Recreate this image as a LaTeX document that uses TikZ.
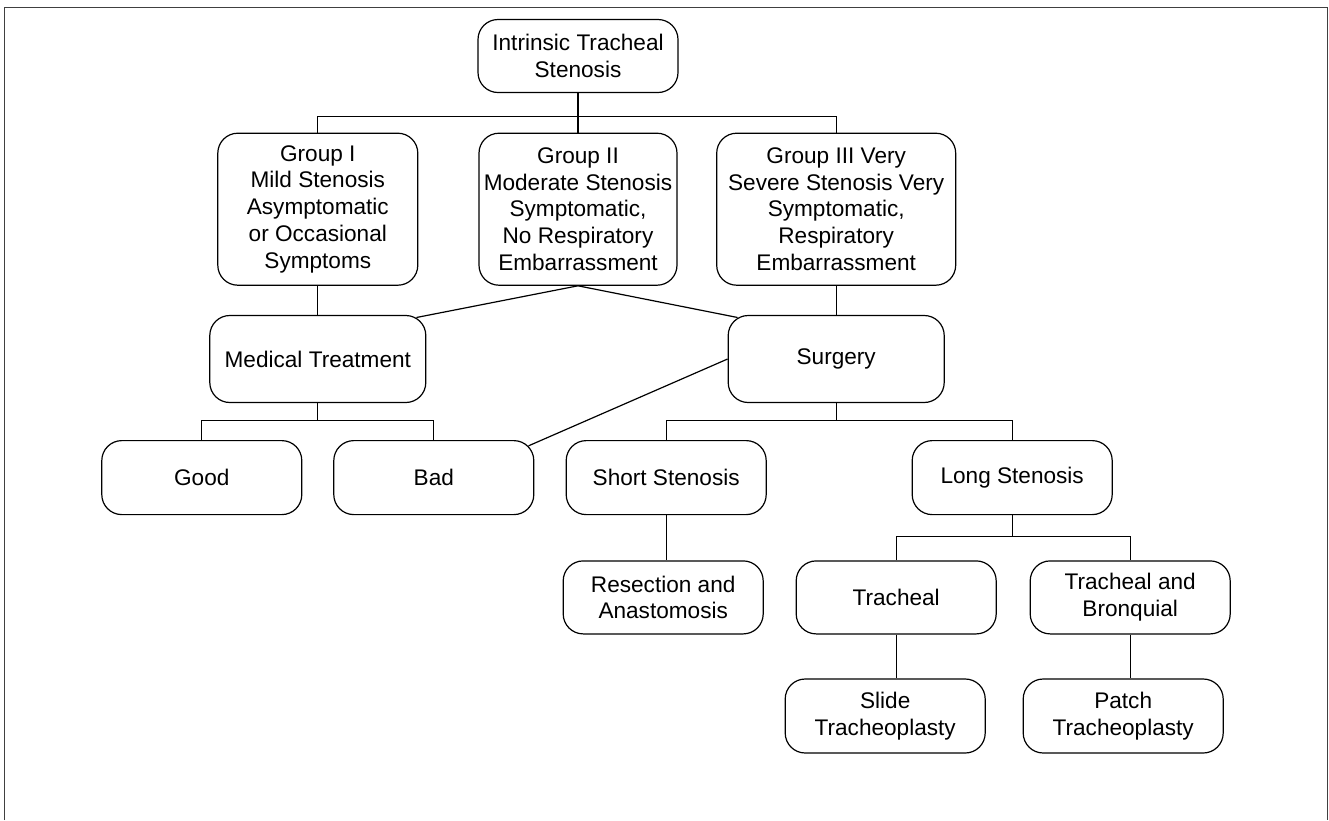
\documentclass[tikz,border=0pt]{standalone}
\usepackage{fontspec}
\setmainfont{Liberation Sans}
\usetikzlibrary{positioning, calc}

\begin{document}
\begin{tikzpicture}[
    box/.style={
        draw,
        line width=0.6pt,
        rounded corners=10pt,
        minimum width=100pt,
        minimum height=37pt,
        align=center,
        inner sep=2pt,
        font=\fontsize{11.3pt}{13.4pt}\selectfont,
    },
    group/.style={
        box,
        minimum height=76pt,
    },
    treat/.style={
        box,
        minimum width=108pt,
        minimum height=43.5pt,
    },
    link/.style={
        line width=0.6pt,
    },
]
    \useasboundingbox (0,0) rectangle (664.5pt,-410pt);
    \draw[line width=0.6pt, black!75] (2.25pt,-410pt) -- (2.25pt,-3.65pt) -- (663.7pt,-3.65pt) -- (663.7pt,-410pt);

    \node[box, minimum height=36.5pt] (root) at (289pt,-28pt) {Intrinsic Tracheal\\Stenosis};
    \coordinate[below=11.75pt of root] (split0);
    \node[group, below=19.75pt of root, minimum width=99pt] (grp2) {Group II\\Moderate Stenosis\\Symptomatic,\\No Respiratory\\Embarrassment};
    \node[group, left=30pt of grp2] (grp1) {Group I\\Mild Stenosis\\Asymptomatic\\or Occasional\\Symptoms};
    \node[group, right=19.25pt of grp2, minimum width=119.5pt] (grp3) {Group III Very\\Severe Stenosis Very\\Symptomatic,\\Respiratory\\Embarrassment};
    \node[treat, below=14.55pt of grp1] (medical) {Medical Treatment};
    \node[treat, below=14.55pt of grp3] (surgery) {Surgery};
    \coordinate[below=8.8pt of medical] (split1);
    \coordinate[below=8.8pt of surgery] (split2);
    \node[box, below=18.45pt of medical, xshift=-58pt] (good) {Good};
    \node[box, below=18.45pt of medical, xshift=58pt] (bad) {Bad};
    \node[box, below=18.45pt of surgery, xshift=-85pt] (short) {Short Stenosis};
    \node[box, below=18.45pt of surgery, xshift=88pt] (long) {Long Stenosis};
    \coordinate[below=10.5pt of long] (split3);
    \node[box, minimum height=36.5pt, below=22.55pt of short, xshift=-1.5pt] (resect) {Resection and\\Anastomosis};
    \node[box, minimum height=36.5pt, below=22.55pt of long, xshift=-58pt] (tracheal) {Tracheal};
    \node[box, minimum height=36.5pt, below=22.55pt of long, xshift=59pt] (bronq) {Tracheal and\\Bronquial};
    \node[box, below=21.95pt of tracheal, xshift=-5.5pt] (slide) {Slide\\Tracheoplasty};
    \node[box, below=21.95pt of bronq, xshift=-3.5pt] (patch) {Patch\\Tracheoplasty};

    % tree lines
    \draw[link] (root) -- (split0);
    \draw[link] (grp1.north) |- (split0) -| (grp3.north);
    \draw[link] (split0) -- (grp2);
    \draw[link] (grp1) -- (medical);
    \draw[link] (grp3) -- (surgery);
    \draw[link] (grp2.south) -- ($(medical.north east)+(-5pt,-1.3pt)$);
    \draw[link] (grp2.south) -- ($(surgery.north west)+(5pt,-1.3pt)$);
    \draw[link] (surgery.west) -- ($(bad.north east)+(-2.9pt,-2.9pt)$);
    \draw[link] (medical) -- (split1);
    \draw[link] (good.north) |- (split1) -| (bad.north);
    \draw[link] (surgery) -- (split2);
    \draw[link] (short.north) |- (split2) -| (long.north);
    \draw[link] (short) -- (short |- resect.north);
    \draw[link] (long) -- (split3);
    \draw[link] (tracheal.north) |- (split3) -| (bronq.north);
    \draw[link] (tracheal) -- (tracheal |- slide.north);
    \draw[link] (bronq) -- (bronq |- patch.north);

\end{tikzpicture}
\end{document}
